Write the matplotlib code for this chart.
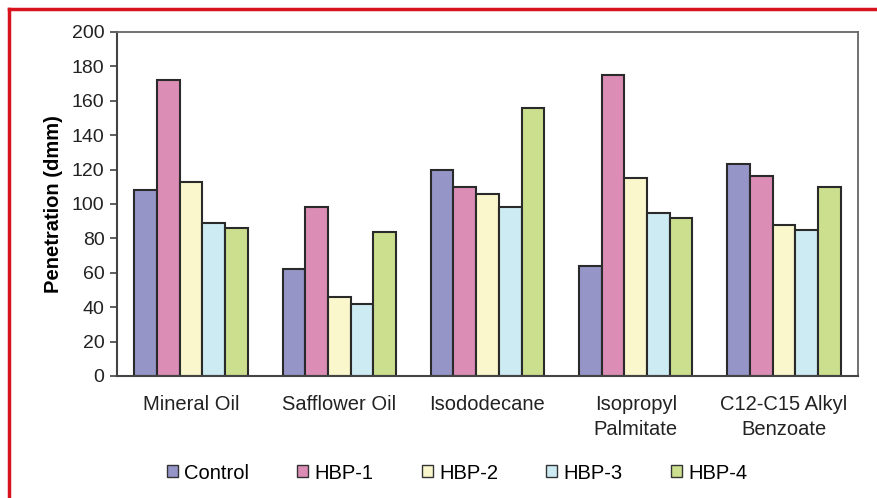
import matplotlib.pyplot as plt
import numpy as np
from matplotlib.lines import Line2D
from matplotlib.patches import Patch

plt.rcParams['font.family'] = ['Liberation Sans', 'DejaVu Sans']

# 数据
categories = ['Mineral Oil', 'Safflower Oil', 'Isododecane',
              'Isopropyl\nPalmitate', 'C12-C15 Alkyl\nBenzoate']
series = ['Control', 'HBP-1', 'HBP-2', 'HBP-3', 'HBP-4']
control = [108, 62, 120, 64, 123]
hbp1 = [172, 98, 110, 175, 116]
hbp2 = [113, 46, 106, 115, 88]
hbp3 = [89, 42, 98, 95, 85]
hbp4 = [86, 84, 156, 92, 110]
values = [control, hbp1, hbp2, hbp3, hbp4]
colors = ['#9595c8', '#dc8db6', '#faf7cc', '#cdebf2', '#cbdf8e']

fig = plt.figure(figsize=(8.78, 4.98), dpi=100)
ax = fig.add_axes([117 / 878, 1 - 376 / 498, 741 / 878, 344 / 498])

x = np.arange(len(categories))
w = 0.153
for i, (vals, c) in enumerate(zip(values, colors)):
    ax.bar(x + (i - 2) * w, vals, width=w, color=c, edgecolor='#2a2a2a',
           linewidth=1.5, label=series[i], zorder=2)

ax.set_xlim(-0.5, len(categories) - 0.5)
ax.set_ylim(0, 200)
ax.set_yticks(range(0, 201, 20))
ax.set_xticks(x)
ax.set_xticklabels(categories, fontsize=14.5, color='#222222', linespacing=1.35)
ax.tick_params(axis='x', length=0, pad=14)
ax.tick_params(axis='y', labelsize=14, labelcolor='#222222', length=5,
               color='#444444', width=1.2, pad=4)
ax.set_ylabel('Penetration (dmm)', fontsize=14.5, fontweight='bold', labelpad=6)

for side in ['left', 'bottom']:
    ax.spines[side].set_color('#444444')
    ax.spines[side].set_linewidth(1.5)
for side in ['top', 'right']:
    ax.spines[side].set_color('#666666')
    ax.spines[side].set_linewidth(1.3)

# 图例
handles = [Patch(facecolor=c, edgecolor='#333333', linewidth=1.0) for c in colors]
fig.legend(handles, series, loc='center', bbox_to_anchor=(457 / 878, 1 - 473 / 498),
           ncol=5, frameon=False, fontsize=14.5, handlelength=0.55, handleheight=0.55,
           handletextpad=0.3, columnspacing=2.4)

# 红色边框
fig.add_artist(Line2D([9 / 878, 9 / 878], [0, 1 - 9 / 498], color='#d7141e', linewidth=2.5))
fig.add_artist(Line2D([9 / 878, 1], [1 - 9 / 498, 1 - 9 / 498], color='#d7141e', linewidth=2.5))

fig.savefig('out.png', dpi=100)
